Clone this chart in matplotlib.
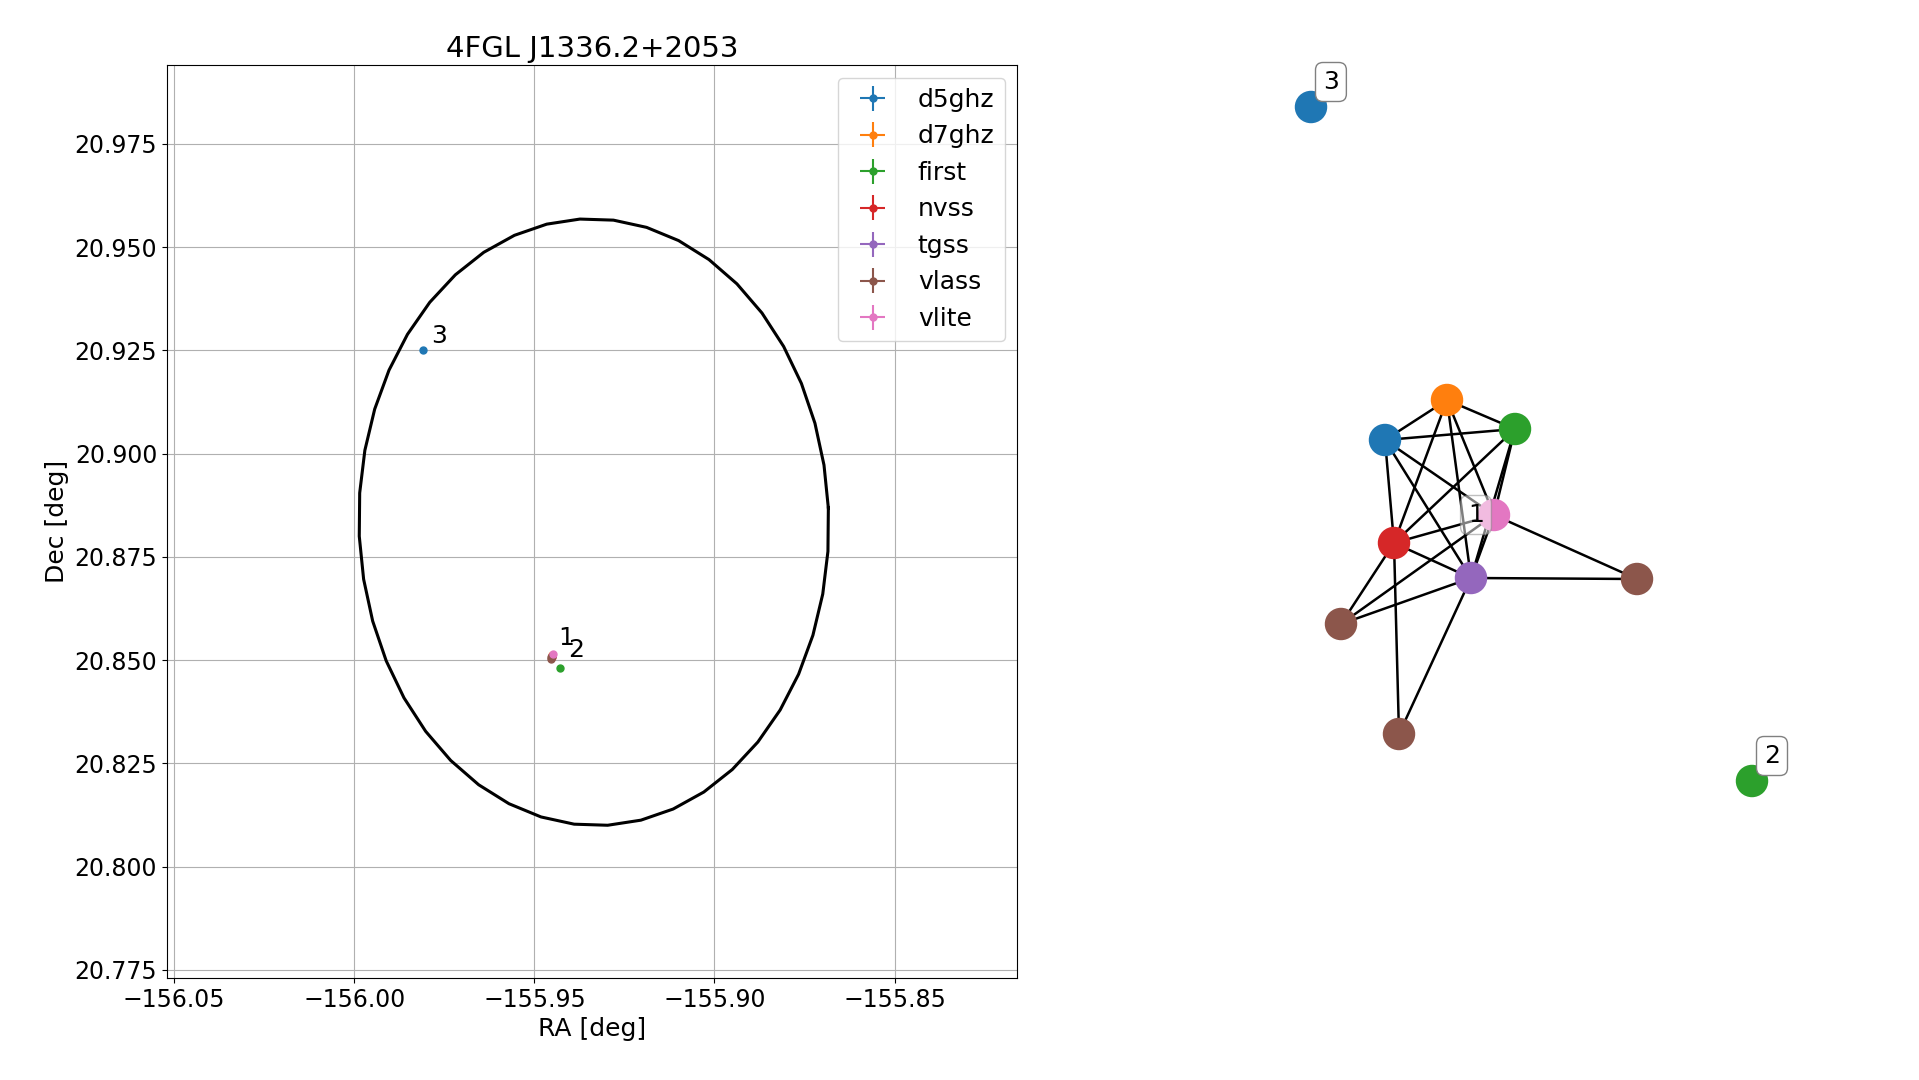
from matplotlib import pyplot as plt
import numpy as np

# catalogue sources in the left panel
surveys = ['d5ghz', 'd7ghz', 'first', 'nvss', 'tgss', 'vlass', 'vlite']
colors = ['#1f77b4', '#ff7f0e', '#2ca02c', '#d62728', '#9467bd', '#8c564b', '#e377c2']
src_ra = [[-155.981], [-155.9452], [-155.9430], [-155.9452], [-155.9451], [-155.9453, -155.9455, -155.9450], [-155.9449]]
src_dec = [[20.9250], [20.8512], [20.8482], [20.8508], [20.8510], [20.8502, 20.8507, 20.8511], [20.8514]]
labels_txt = ['1', '2', '3']
labels_ra = [-155.9435, -155.9406, -155.9786]
labels_dec = [20.8524, 20.8495, 20.9256]

# 95% ellipse parameters
ell_ra, ell_dec = -155.9335, 20.8834
ell_a, ell_b, ell_ang = 0.0652, 0.0735, 3.0

# network panel (pixel layout)
node_x = [1385, 1447, 1515, 1494, 1394, 1471, 1637, 1341, 1399, 1311, 1752]
node_y = [440, 400, 429, 515, 543, 578, 579, 624, 734, 107, 781]
node_c = [0, 1, 2, 6, 3, 4, 5, 5, 5, 0, 2]
edges = [(0, 1), (0, 2), (0, 3), (0, 4), (0, 5), (1, 2), (1, 4), (1, 5), (1, 3),
         (2, 4), (2, 5), (2, 3), (4, 3), (4, 5), (4, 7), (4, 8), (3, 7), (3, 6),
         (3, 5), (5, 7), (5, 6), (5, 8)]
node_lab = {3: '1', 10: '2', 9: '3'}

plt.rcParams['font.size'] = 17
fig = plt.figure(figsize=(19.19, 10.8), dpi=100)
ax = fig.add_axes([0.087, 0.0944, 0.443, 0.845])

for s, c, ra, dec in zip(surveys, colors, src_ra, src_dec):
    ax.errorbar(ra, dec, xerr=0.0002, yerr=0.0002, fmt='o', ms=5, color=c, label=s)

t = np.linspace(0, 2*np.pi, 45)
th = np.deg2rad(ell_ang)
ex = ell_a*np.cos(t)*np.cos(th) - ell_b*np.sin(t)*np.sin(th) + ell_ra
ey = ell_a*np.cos(t)*np.sin(th) + ell_b*np.sin(t)*np.cos(th) + ell_dec
ax.plot(ex, ey, 'k-', lw=2.2)

for txt, x, y in zip(labels_txt, labels_ra, labels_dec):
    ax.text(x, y, txt, fontsize=18, ha='left', va='bottom')

ax.set_xlim(-156.052, -155.816)
ax.set_ylim(20.773, 20.994)
ax.set_xticks([-156.05, -156.0, -155.95, -155.9, -155.85])
ax.set_yticks([20.775, 20.8, 20.825, 20.85, 20.875, 20.9, 20.925, 20.95, 20.975])
ax.grid(True)
ax.set_xlabel('RA [deg]', fontsize=18)
ax.set_ylabel('Dec [deg]', fontsize=18)
ax.set_title('4FGL J1336.2+2053', fontsize=21)
ax.legend(loc=1, fontsize=18)

# network drawn in figure pixel coordinates
ax2 = fig.add_axes([0, 0, 1, 1])
ax2.set_xlim(0, 1919)
ax2.set_ylim(1080, 0)
ax2.axis('off')
for i, j in edges:
    ax2.plot([node_x[i], node_x[j]], [node_y[i], node_y[j]], 'k-', lw=1.8, zorder=1)
ax2.scatter(node_x, node_y, s=500, c=[colors[k] for k in node_c], zorder=2)
for k, txt in node_lab.items():
    ax2.text(node_x[k] + 12 if k != 3 else node_x[k] - 18, node_y[k] - 25 if k != 3 else node_y[k],
             txt, fontsize=18, ha='left' if k != 3 else 'center', va='center', zorder=3,
             bbox=dict(boxstyle='round', fc='white', ec='gray', alpha=0.5 if k == 3 else 1.0))

plt.savefig('out.png')
